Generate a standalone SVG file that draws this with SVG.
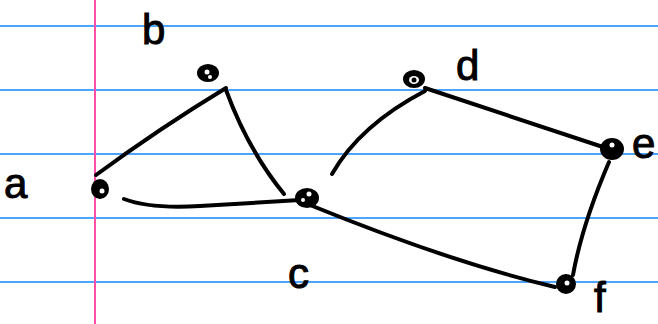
<svg xmlns="http://www.w3.org/2000/svg" width="658" height="324" viewBox="0 0 658 324">
<style>
.rule{stroke:#4da3ff;stroke-width:2}
.margin{stroke:#ff4fa8;stroke-width:2}
.edge{fill:none;stroke:#000;stroke-width:4;stroke-linecap:round}
.node{fill:#000;stroke:#000;stroke-width:2}
.hole{fill:#fff}
.lbl{font-family:"Liberation Sans",sans-serif;font-size:42px;fill:#000;stroke:#000;stroke-width:1}
</style>
<rect width="658" height="324" fill="#fff"/>
<g id="paper">
<line class="rule" x1="0" y1="26" x2="658" y2="26"/>
<line class="rule" x1="0" y1="90" x2="658" y2="90"/>
<line class="rule" x1="0" y1="154" x2="658" y2="154"/>
<line class="rule" x1="0" y1="218" x2="658" y2="218"/>
<line class="rule" x1="0" y1="282" x2="658" y2="282"/>
<line class="margin" x1="95" y1="0" x2="95" y2="324"/>
</g>
<g id="connectors">
<path class="edge" d="M96,175 Q160,128 226,88"/>
<path class="edge" d="M226,90 Q248,150 284,194"/>
<path class="edge" d="M124,199 Q150,209 200,206 L300,200"/>
<path class="edge" d="M332,174 Q360,125 425,91"/>
<path class="edge" d="M310,205 Q450,262 555,287"/>
<path class="edge" d="M425,88 L612,150"/>
<path class="edge" d="M609,162 Q582,225 573,275"/>
</g>
<g id="node-a"><ellipse class="node" cx="100" cy="189" rx="8" ry="9"/><circle class="hole" cx="102" cy="191" r="2.5"/></g>
<g id="node-b"><ellipse class="node" cx="208" cy="73" rx="10" ry="8"/><circle class="hole" cx="207" cy="72" r="2.5"/><circle class="hole" cx="210" cy="77" r="2"/></g>
<g id="node-c"><ellipse class="node" cx="307" cy="198" rx="11" ry="9"/><circle class="hole" cx="309" cy="194" r="2.5"/><circle class="hole" cx="303" cy="200" r="2"/></g>
<g id="node-d"><ellipse class="node" cx="414" cy="79" rx="10" ry="8"/><ellipse class="hole" cx="414" cy="80" rx="5" ry="4"/><circle cx="414" cy="80" r="2.5"/></g>
<g id="node-e"><ellipse class="node" cx="612" cy="149" rx="11" ry="10"/><circle class="hole" cx="612" cy="145" r="2.5"/></g>
<g id="node-f"><ellipse class="node" cx="566" cy="284" rx="9" ry="9"/><circle class="hole" cx="567" cy="283" r="2.5"/></g>
<g id="labels">
<text class="lbl" x="142" y="44">b</text>
<text class="lbl" x="4" y="198">a</text>
<text class="lbl" x="288" y="288">c</text>
<text class="lbl" x="456" y="80">d</text>
<text class="lbl" x="632" y="158">e</text>
<text class="lbl" x="594" y="312">f</text>
</g>
</svg>
